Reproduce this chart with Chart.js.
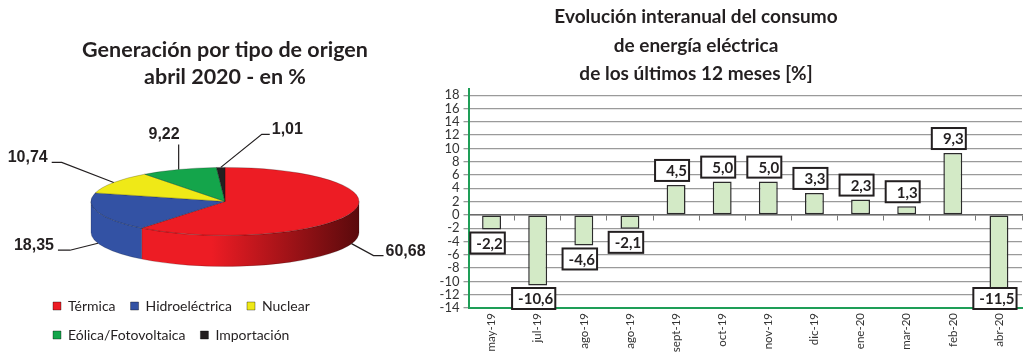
<!DOCTYPE html>
<html>
<head>
<meta charset="utf-8">
<script src="https://cdn.jsdelivr.net/npm/chart.js@4"></script>
<style>
  body { margin: 0; background: #fff; width: 1024px; height: 358px; overflow: hidden; position: relative; }
  #cajaTorta { position: absolute; left: 0; top: 0; width: 430px; height: 358px; }
  #cajaBarras { position: absolute; left: 370px; top: 0; width: 654px; height: 358px; }
</style>
</head>
<body>
<div id="cajaTorta"><canvas id="graficoTorta"></canvas></div>
<div id="cajaBarras"><canvas id="graficoBarras"></canvas></div>
<script>
// ---------- datos torta ----------
const origenes = ["Térmica", "Hidroeléctrica", "Nuclear", "Eólica/Fotovoltaica", "Importación"];
const porcentajes = [60.68, 18.35, 10.74, 9.22, 1.01];

// ---------- datos barras ----------
const meses = ["may-19", "jul-19", "ago-19", "ago-19", "sept-19", "oct-19", "nov-19", "dic-19", "ene-20", "mar-20", "feb-20", "abr-20"];
const variacion = [-2.2, -10.6, -4.6, -2.1, 4.5, 5.0, 5.0, 3.3, 2.3, 1.3, 9.3, -11.5];
const ejeMin = -14;
const ejeMax = 18;
const ejePaso = 2;

// ---------- estilos ----------
const coloresTorta = ["#ed1c24", "#3352a4", "#efe917", "#14a54b", "#231f20"];
const paredTorta = [["#ed1c24", "#5a0a0c"], ["#3352a4", "#2c4592"], ["#efe917", "#8a870c"], ["#14a54b", "#0a5a28"], ["#231f20", "#111"]];
const inclinacion = 0.254;
const espesor = 31;
// codo de la guia (dx, dy) y largo de la cola horizontal
const guias = [[22, 12, 10], [-28, 7, -12], [-52, -20, -10], [0, -25, 0], [41, -33, 8]];

const coma = (v, d) => v.toFixed(d).replace(".", ",");

/* -------------- TORTA 3D ---------------- */
const torta3d = {
    id: "torta3d",
    beforeDatasetsDraw(chart) {
        const ctx = chart.ctx;
        const arcos = chart.getDatasetMeta(0).data;
        const cx = arcos[0].x, cy = arcos[0].y, r = arcos[0].outerRadius, ry = r * inclinacion;

        // pared frontal
        arcos.forEach((arco, i) => {
            const s = Math.max(arco.startAngle, 0);
            const e = Math.min(arco.endAngle, Math.PI);
            if (s >= e) return;
            const grad = ctx.createLinearGradient(cx - r, 0, cx + r, 0);
            grad.addColorStop(0, paredTorta[i][0]);
            grad.addColorStop(0.45, paredTorta[i][0]);
            grad.addColorStop(1, paredTorta[i][1]);
            ctx.beginPath();
            ctx.ellipse(cx, cy, r, ry, 0, s, e);
            ctx.ellipse(cx, cy + espesor, r, ry, 0, e, s, true);
            ctx.closePath();
            ctx.fillStyle = grad;
            ctx.fill();
            ctx.strokeStyle = "rgba(0,0,0,0.3)";
            ctx.lineWidth = 0.6;
            ctx.stroke();
        });

        // la tapa se dibuja aplastada
        ctx.save();
        ctx.translate(cx, cy);
        ctx.scale(1, inclinacion);
        ctx.translate(-cx, -cy);
    },
    afterDatasetsDraw(chart) {
        const ctx = chart.ctx;
        ctx.restore();

        const arcos = chart.getDatasetMeta(0).data;
        const cx = arcos[0].x, cy = arcos[0].y, r = arcos[0].outerRadius, ry = r * inclinacion;

        ctx.save();
        ctx.font = "bold 16px 'Liberation Sans'";
        ctx.fillStyle = "#231f20";
        ctx.strokeStyle = "#231f20";
        ctx.lineWidth = 1.2;
        ctx.textBaseline = "alphabetic";
        arcos.forEach((arco, i) => {
            const m = (arco.startAngle + arco.endAngle) / 2;
            const ax = cx + r * Math.cos(m);
            const ay = cy + ry * Math.sin(m) + (Math.sin(m) > 0 ? espesor : 0);
            const [dx, dy, cola] = guias[i];
            const ex = ax + dx, ey = ay + dy, fx = ex + cola;
            ctx.beginPath();
            ctx.moveTo(ax, ay);
            ctx.lineTo(ex, ey);
            ctx.lineTo(fx, ey);
            ctx.stroke();
            const texto = coma(porcentajes[i], 2);
            if (cola > 0) {
                ctx.textAlign = "left";
                ctx.fillText(texto, fx + 2, ey);
            } else if (cola < 0) {
                ctx.textAlign = "right";
                ctx.fillText(texto, fx - 4, ey);
            } else {
                ctx.textAlign = "right";
                ctx.fillText(texto, ex + 1, ey - 5);
            }
        });
        ctx.restore();
    }
};

new Chart(document.getElementById("graficoTorta"), {
    type: "pie",
    data: {
        labels: origenes,
        datasets: [{
            data: porcentajes,
            backgroundColor: coloresTorta,
            borderColor: "rgba(0,0,0,0.45)",
            borderWidth: 0.8,
            radius: 134
        }]
    },
    options: {
        responsive: true,
        maintainAspectRatio: false,
        animation: false,
        layout: { padding: { left: 38, right: 18, top: 0, bottom: 6 } },
        plugins: {
            title: {
                display: true,
                text: ["Generación por tipo de origen", "abril 2020 - en %"],
                color: "#231f20",
                font: { family: "Lato", size: 21.5, weight: "bold", lineHeight: 1.275 },
                padding: { top: 36, bottom: 28 }
            },
            legend: {
                position: "bottom",
                align: "start",
                labels: {
                    boxWidth: 8,
                    boxHeight: 8,
                    padding: 15,
                    color: "#231f20",
                    font: { family: "Lato", size: 14 }
                }
            },
            tooltip: { enabled: false }
        }
    },
    plugins: [torta3d]
});

/* -------------- ROTULOS BARRAS ---------------- */
const rotulosBarras = {
    id: "rotulosBarras",
    afterDraw(chart) {
        const ctx = chart.ctx;
        const area = chart.chartArea;
        const barras = chart.getDatasetMeta(0).data;
        ctx.save();
        ctx.font = "bold 15px Lato";
        ctx.textBaseline = "middle";
        ctx.textAlign = "right";
        barras.forEach((barra, i) => {
            const v = variacion[i];
            const texto = coma(v, 1);
            const w = Math.max(34, ctx.measureText(texto).width + 8);
            const h = 21;
            const x = barra.x - 4 - w / 2;
            let y = v >= 0 ? barra.y - 4 - h : barra.y + 3;
            if (y + h > area.bottom + 1) y = area.bottom + 1 - h;
            ctx.fillStyle = "#fff";
            ctx.fillRect(x, y, w, h);
            ctx.strokeStyle = "#231f20";
            ctx.lineWidth = 2;
            ctx.strokeRect(x, y, w, h);
            ctx.fillStyle = "#231f20";
            ctx.fillText(texto, x + w - 2, y + h / 2 + 1);
        });
        ctx.restore();
    }
};

new Chart(document.getElementById("graficoBarras"), {
    type: "bar",
    data: {
        labels: meses,
        datasets: [{
            data: variacion,
            backgroundColor: "#d3eac6",
            borderColor: "#2b2b2b",
            borderWidth: 1.5,
            borderSkipped: false,
            categoryPercentage: 1,
            barPercentage: 0.41
        }]
    },
    options: {
        responsive: true,
        maintainAspectRatio: false,
        animation: false,
        layout: { padding: { left: 0, right: 2, top: 0, bottom: 0 } },
        plugins: {
            legend: { display: false },
            tooltip: { enabled: false },
            title: {
                display: true,
                text: ["Evolución interanual del consumo", "de energía eléctrica", "de los últimos 12 meses [%]"],
                color: "#231f20",
                font: { family: "Lato", size: 19, weight: "bold", lineHeight: 1.5 },
                padding: { top: 3, bottom: 0 }
            }
        },
        scales: {
            x: {
                grid: { display: false, drawTicks: false },
                border: { color: "#1e9e57", width: 2, z: 1 },
                ticks: {
                    color: "#333",
                    font: { family: "Lato", size: 11.5 },
                    minRotation: 90,
                    maxRotation: 90,
                    padding: 5,
                    autoSkip: false
                },
                afterFit: s => { s.height = 50; }
            },
            x2: {
                type: "category",
                position: { y: 0 },
                offset: true,
                grid: { drawOnChartArea: false, tickLength: 5, color: "#777", offset: true },
                border: { color: "#6b6b6b", width: 1.5 },
                ticks: { display: false },
                afterFit: s => { s.height = 0; }
            },
            y: {
                min: ejeMin,
                max: ejeMax + 1,
                afterBuildTicks: s => {
                    s.ticks = s.ticks.filter(t => (t.value - ejeMin) % ejePaso === 0 && t.value <= ejeMax);
                },
                ticks: {
                    stepSize: ejePaso,
                    includeBounds: false,
                    autoSkip: false,
                    color: "#333",
                    font: { family: "Lato", size: 13 },
                    padding: 4
                },
                grid: { color: "#9a9a9a", lineWidth: 1.3, tickLength: 5 },
                border: { color: "#1e9e57", width: 2, z: 1 },
                afterFit: s => { s.width = 98.5; }
            }
        }
    },
    plugins: [rotulosBarras]
});
</script>
</body>
</html>
